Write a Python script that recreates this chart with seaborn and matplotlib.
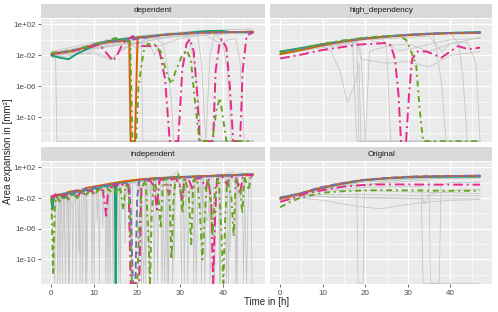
import numpy as np
import pandas as pd
import matplotlib
matplotlib.use("Agg")
import matplotlib.pyplot as plt
import seaborn as sns
from matplotlib.ticker import FixedLocator, NullFormatter

# =============================
# DATA  (t in h, log10 of area in mm^2; F = zero area, drawn at panel floor)
# =============================
F = -13.1

panels = ["dependent", "high_dependency", "independent", "Original"]
series = ["s1", "s2", "s3", "s4", "s5"]
colors = ["#1B9E77", "#D95F02", "#7570B3", "#E7298A", "#66A61E"]

# ---- dependent ----
dep_s1 = [(0, -2.0), (2, -2.3), (4, -2.5), (6, -1.8), (9, -1.0), (12.8, -0.2), (16, 0.05), (19, 0.25),
          (25, 0.6), (30, 0.8), (34, 1.05), (37, 1.15), (40, 1.15), (42, 1.0), (47, 0.95)]
dep_s2 = [(0, -1.85), (5, -1.45), (8, -0.95), (11, -0.45), (15, -0.2), (18.2, -0.1), (18.5, F), (19.5, F),
          (20.1, 0.3), (22, 0.35), (27, 0.7), (32, 0.85), (37, 0.95), (42, 1.0), (47, 1.05)]
dep_s3 = [(0, -1.75), (5, -1.4), (8, -0.9), (11, -0.4), (15, -0.15), (18, -0.05), (22, 0.3),
          (27, 0.7), (32, 0.85), (37, 0.95), (42, 1.0), (47, 1.0)]
dep_s4 = [(0, -1.8), (4, -1.5), (8, -1.1), (11.2, -0.6), (13, -1.8), (14.4, -2.7), (15.5, -1.8), (16.7, -0.4),
          (19, 0.5), (20.6, -0.8), (24.5, -0.8), (25.3, -1.7), (26.5, -5), (27.6, F), (29.6, F), (30.5, -4),
          (31.5, -0.5), (32.3, 0.1), (33.2, -1.5), (34, -7), (34.6, F), (37.7, F), (38.3, -4), (39.2, -0.5),
          (39.7, 0.1), (40.8, -1), (41.6, -6), (42.4, F), (44, F), (44.6, -4), (45.5, 0.5), (47, 1.0)]
dep_s5 = [(0, -1.7), (5, -1.4), (10, -0.6), (13, -0.1), (15, 0.25), (17, -0.1), (18.4, -0.3), (18.9, F),
          (19.8, F), (20.3, -6), (21.5, -1.5), (22.5, -0.5), (24, -0.6), (25.5, -1.5), (27, -4.5), (28, -5.7),
          (29, -4), (30.5, -2), (31.5, -1.3), (32.5, -2.5), (33.5, -8), (34.5, F), (37.5, F), (38.5, -9),
          (39.3, -7.5), (40, -10), (40.8, F), (46.5, F)]
dep_grey = [
    [(0, -1.9), (1, -2.2), (1.3, F), (47, F)],
    [(0, -2.3), (5, -2.0), (10, -1.5), (14, -2.5), (17, -1.0), (20, -0.4), (25, 0.2), (30, 0.5), (35, 0.8), (40, 0.9), (47, 1.0)],
    [(0, -1.6), (5, -1.2), (10, -0.7), (15, -0.3), (18, -0.2), (18.3, F), (47, F)],
    [(0, -2.0), (6, -1.6), (12, -1.0), (18, -0.5), (21, -0.3), (21.3, F), (47, F)],
    [(0, -1.8), (8, -1.0), (15, -0.4), (20, 0.1), (24, 0.4), (26, -0.5), (27, -3), (28, -8), (28.5, F), (47, F)],
    [(0, -2.1), (5, -1.8), (10, -1.8), (14, -2.6), (16, -1.5), (20, -0.3), (25, 0.5), (30, 0.8), (32, 0.3), (33, -2), (34, -6), (35, F), (47, F)],
    [(0, -1.7), (10, -0.6), (20, 0.4), (30, 0.9), (38, 1.1), (40, -0.5), (41, -4), (42, F), (47, F)],
    [(0, -1.9), (10, -0.8), (20, 0.1), (30, 0.5), (36, 0.6), (39, -0.3), (43, 0.2), (44, -3), (45, F), (47, F)],
    [(0, -2.2), (10, -1.1), (20, -0.3), (23, -0.5), (24, -2), (25, -0.8), (30, 0.2), (35, 0.6), (40, 0.9), (47, 1.2)],
    [(0, -1.5), (10, -0.3), (20, 0.5), (30, 1.0), (40, 1.3), (47, 1.4)],
    [(0, -2.0), (10, -1.0), (18, -0.3), (20, -1.2), (22, -0.2), (30, 0.6), (34, 0.9), (35, -3), (36, F), (37, -2), (38, 0.6), (47, 1.1)],
]

# ---- high_dependency ----
high_s1 = [(0, -1.5), (5, -1.05), (10, -0.55), (15, -0.15), (20, 0.2), (25, 0.45), (30, 0.65), (35, 0.8), (40, 0.9), (47, 1.0)]
high_s2 = [(0, -1.85), (5, -1.3), (10, -0.7), (15, -0.2), (20, 0.15), (25, 0.4), (30, 0.6), (35, 0.75), (40, 0.85), (47, 0.9)]
high_s3 = [(0, -1.65), (5, -1.15), (10, -0.6), (15, -0.15), (20, 0.2), (25, 0.45), (30, 0.65), (35, 0.8), (40, 0.9), (47, 0.95)]
high_s4 = [(0, -2.4), (5, -1.9), (10, -1.3), (15, -0.9), (18.6, -0.6), (22, -0.5), (25, -0.4), (26, -0.7), (27, -2.5),
           (27.8, -7), (28.4, F), (29.6, F), (30.3, -7), (31, -2.5), (32.3, -1.5), (34.4, -1.5), (37.9, -2.3),
           (41.8, -0.8), (44.2, -1.2), (47, -1.0)]
high_s5 = [(0, -1.7), (5, -1.15), (10, -0.5), (15, -0.05), (20, 0.3), (25, 0.5), (28, 0.5), (29.6, 0.0), (31, -1.8),
           (32, -3.4), (32.8, -9), (33.6, F), (47, F)]
high_grey = [
    [(0, -1.6), (5, -1.2), (10, -0.8), (12, -1.5), (14, -4), (15.8, -8.1), (17.7, -5.4), (18.5, -3), (19, F), (47, F)],
    [(0, -1.8), (10, -0.8), (18, -0.2), (18.5, F), (47, F)],
    [(0, -1.7), (10, -0.7), (18, -0.3), (19, -1.5), (20, F), (47, F)],
    [(0, -1.9), (10, -1.0), (18, -0.5), (19, -2.5), (25, -3), (30, -2.8), (35, -3.5), (40, -2), (47, -1.5)],
    [(0, -1.6), (10, -0.6), (20, 0.2), (24, 0.4), (25, -1), (26, F), (47, F)],
    [(0, -1.7), (10, -0.6), (20, 0.2), (30, 0.6), (36, 0.7), (37, -2), (38, -6), (39, F), (47, F)],
    [(0, -1.5), (10, -0.5), (20, 0.25), (30, 0.7), (40, 0.85), (42, -0.5), (43, -5), (44, F), (47, F)],
    [(0, -1.7), (10, -0.6), (20, 0.2), (25, -0.6), (28, -1.4), (32, -1.0), (36, -0.4), (40, 0.0), (47, 0.2)],
    [(0, -1.8), (10, -0.8), (20, 0.0), (30, 0.3), (35, 0.5), (38, -1.5), (40, -0.5), (44, -0.3), (46, -3), (47, F)],
    [(0, -1.6), (17, -0.3), (18, F), (20, F), (21, -1.5), (25, -0.8), (30, -0.5), (35, -1.5), (40, -0.5), (47, 0.3)],
    [(0, -1.55), (10, -0.5), (20, 0.3), (30, 0.75), (40, 0.95), (47, 1.05)],
]

# ---- independent ----
ind_s1 = [(0, -2.0), (0.3, -3.5), (0.6, -1.8), (2, -1.6), (3, -2.0), (4, -1.3), (5, -1.6), (6, -1.1), (7, -1.3),
          (8, -0.9), (9, -1.1), (10, -0.7), (11, -0.8), (12, -0.4), (13, -0.5), (14, -0.2), (14.8, -0.3), (15, F),
          (15.2, -0.2), (16, 0.0), (18, 0.2), (20, 0.35), (22, 0.45), (25, 0.6), (28, 0.7), (30, 0.75), (33, 0.8),
          (36, 0.85), (40, 0.95), (43, 1.0), (45, 1.1), (47, 1.05)]
ind_s2 = [(0, -1.8), (2, -1.5), (3, -1.7), (4, -1.2), (6, -1.0), (7, -1.1), (8, -0.7), (10, -0.5), (12, -0.3), (14, -0.1),
          (16, 0.1), (18, 0.25), (20, 0.4), (22, 0.5), (25, 0.6), (30, 0.7), (35, 0.85), (40, 0.95), (44, 1.0), (47, 1.1)]
ind_s3 = [(0, -1.9), (3, -1.4), (6, -1.1), (10, -0.6), (14, -0.2), (17, 0.0), (18.2, -0.3), (18.6, -5), (19, F),
          (19.6, F), (20, -2), (20.5, 0.3), (25, 0.55), (30, 0.7), (35, 0.8), (40, 0.9), (47, 1.05)]
ind_s4 = [(0, -2.2), (1, -1.5), (2, -2.4), (3, -1.6), (4, -2.1), (5, -1.3), (6, -1.9), (7, -1.1), (8, -1.6), (9, -0.9),
          (10, -1.4), (11, -0.7), (12, -1.0), (12.8, -4.3), (13.3, -0.5), (14, -0.6), (15, -0.2), (16, -0.5), (17, -0.1),
          (18, -0.3), (18.5, F), (20.5, F), (21, -0.5), (22, 0.2), (23, 0.3), (24, -0.5), (24.6, -3.5), (25.2, 0.3),
          (26, 0.5), (27.5, -1.5), (28, 0.4), (29, 0.6), (30, -0.5), (30.5, -2.5), (31, 0.4), (32, 0.5), (33, -1.0),
          (33.5, 0.5), (35, 0.6), (36, -0.8), (36.6, 0.6), (37.3, -3), (37.7, F), (38.2, -4), (38.6, 0.5), (40, 0.7),
          (41, -0.3), (41.5, 0.7), (43, 0.8), (44, -1.5), (44.6, 0.8), (46, 1.0), (47, 0.9)]
ind_s5 = [(0, -2.0), (0.2, -6), (0.4, -12), (0.6, -8), (0.8, -3), (1.2, -1.8), (2, -2.5), (3, -1.6), (4, -2.2), (5, -1.4),
          (6, -2.0), (7, -1.3), (8, -1.7), (9, -1.0), (10, -1.6), (11, -0.9), (12, -1.3), (13, -0.7), (14, -1.2),
          (14.5, -0.4), (15.3, -1.5), (16, -0.5), (16.8, -3.5), (17.3, -0.3), (18, -0.6), (18.4, -6), (18.8, F),
          (20, F), (20.5, -6), (21, -0.8), (22, 0.3), (22.7, -8), (23, F), (23.4, -4), (24, 0.4), (25, -2), (25.5, -6),
          (26, 0.3), (27, 0.5), (27.6, -3), (28, -10), (28.5, -2), (29, 0.6), (29.6, 1.1), (30, -0.5), (30.6, -4),
          (31, 0.5), (32, -1), (32.6, -8), (33.1, 0.3), (34, 0.6), (34.5, -2.5), (35.2, -10), (35.8, -4), (36.3, 0.5),
          (37, -1), (37.6, -7), (38.2, -0.5), (39, 0.6), (39.6, -6), (40.1, F), (40.5, -5), (41, 0.5), (42, -2),
          (42.5, -7), (43, 0.5), (44, -0.5), (44.5, -4), (45, 0.8), (46, -1), (46.5, 0.9), (47, 0.9)]
ind_grey = [
    [(0, -1.8), (1.3, -1.6), (1.5, F), (1.7, -1.6), (3, -1.3), (3.3, F), (3.6, -1.2), (6, -0.9), (8, -0.7), (8.3, F),
     (8.6, -0.6), (12, -0.3), (16, 0.0), (20, 0.3), (20.3, F), (20.6, 0.3), (25, 0.6), (30, 0.8), (30.3, F),
     (30.6, 0.8), (36, 0.9), (40, 1.0), (43, 1.1), (43.3, F), (43.6, 1.1), (47, 1.2)],
    [(0, -2.1), (2.4, -1.8), (2.6, F), (2.8, -1.7), (5, -1.4), (7.1, -1.1), (7.3, F), (7.5, -1.0), (11, -0.6),
     (11.2, F), (11.4, -0.5), (16, -0.1), (22, 0.3), (23.5, -2), (24, 0.4), (28, 0.6), (28.3, F), (28.7, 0.6),
     (34, 0.7), (36.5, -5), (37, 0.8), (41, 0.9), (41.3, F), (41.6, 0.9), (47, 1.0)],
    [(0, -1.9), (4, -1.5), (4.2, F), (4.5, -1.4), (9, -0.9), (13.5, -0.5), (13.7, F), (13.9, -0.4), (17, -0.2),
     (19, 0.2), (21, -1), (21.5, F), (22, -0.5), (26, 0.5), (26.4, F), (26.8, 0.5), (32, 0.7), (33, -3), (34, 0.7),
     (39, 0.8), (39.4, F), (39.8, 0.9), (45, 1.0), (45.5, F), (46, 1.0), (47, 1.0)],
    [(0, -1.7), (5.6, -1.2), (5.8, F), (6, -1.1), (10, -0.8), (15.9, -0.2), (16.1, F), (16.3, -0.1), (19, 0.1),
     (24.5, 0.5), (24.8, F), (25.1, 0.5), (29, 0.6), (31, -1.5), (32, 0.6), (35.5, 0.9), (35.8, F), (36.2, 0.8),
     (42, 0.9), (44, -2), (45, 1.0), (47, 1.1)],
    [(0, -2.3), (6.5, -1.5), (6.7, F), (7, -1.4), (12.5, -0.6), (12.7, F), (13, -0.5), (18, 0.0), (22.5, 0.3),
     (22.8, F), (23.2, 0.3), (27, 0.5), (29.5, 1.5), (30, 0.6), (33.5, 0.7), (33.8, F), (34.2, 0.7), (38, 0.8),
     (42.5, 1.4), (43, 0.9), (46.5, 1.0), (46.8, F), (47, F)],
    [(0, -2.0), (0.8, F), (1, -2.0), (5, -1.5), (9.8, -0.9), (10, F), (10.2, -0.8), (14.5, -0.4), (17.5, -1.5),
     (18, -0.2), (21, 0.2), (27, 0.5), (27.3, F), (27.7, 0.5), (31, 0.6), (37.8, 0.8), (38, F), (38.5, 0.8),
     (44, 0.9), (47, 1.1)],
    [(0, -1.6), (3, -1.4), (5, -3), (6, -1.3), (9, -0.8), (14.2, -0.3), (14.4, F), (14.6, -0.3), (19.5, 0.1),
     (25.5, 0.4), (25.8, F), (26.2, 0.4), (31.5, 0.6), (31.8, F), (32.2, 0.6), (40.5, 0.9), (40.8, F), (41.2, 0.9),
     (47, 1.1)],
    [(0, -2.2), (2, -1.9), (2.2, -5), (2.5, -1.9), (8, -1.0), (11.8, -0.6), (12, -6), (12.2, -0.6), (17, -0.1),
     (21.8, 0.2), (22, F), (22.3, 0.3), (29, 0.6), (34.8, 0.8), (35, F), (35.3, 0.8), (42, 1.0), (47, 1.2)],
    [(0, -1.9), (1.8, -1.7), (2, F), (2.2, -1.6), (4.8, -1.3), (5, F), (5.2, -1.2), (9.3, -0.8), (9.5, F), (9.7, -0.7),
     (15.5, -0.1), (15.7, F), (15.9, 0.0), (20.8, 0.3), (21, F), (21.3, 0.3), (26.8, 0.5), (27, F), (27.3, 0.5),
     (33, 0.7), (33.2, F), (33.5, 0.7), (39, 0.9), (39.2, F), (39.5, 0.9), (44.5, 1.0), (44.8, F), (45.1, 1.0), (47, 1.1)],
    [(0, -2.4), (3.8, -1.6), (4, F), (4.2, -1.5), (7.8, -1.0), (8, F), (8.2, -0.9), (13, -0.5), (13.2, F), (13.4, -0.4),
     (18.5, 0.1), (18.7, F), (19, 0.1), (23.8, 0.4), (24, F), (24.3, 0.4), (30.8, 0.6), (31, F), (31.3, 0.6),
     (36.8, 0.8), (37, F), (37.3, 0.8), (42.8, 1.0), (43, F), (43.3, 1.0), (47, 1.0)],
    [(0, -1.7), (2.8, -1.5), (3, -7), (3.2, -1.5), (6.2, -1.1), (6.4, -9), (6.6, -1.0), (10.5, -0.6), (10.7, -5),
     (10.9, -0.5), (17, 0.0), (17.2, -8), (17.4, 0.0), (23, 0.3), (23.2, -6), (23.4, 0.3), (28.5, 0.6), (28.7, -10),
     (28.9, 0.6), (35, 0.8), (35.2, -7), (35.4, 0.8), (41.5, 0.9), (41.7, -9), (41.9, 0.9), (47, 1.1)],
    [(0, -2.0), (2, -1.4), (4, -1.9), (6, -0.9), (8, -1.5), (10, -0.4), (12, -1.0), (14, 0.0), (16, -0.6), (19, 0.3),
     (21, -0.4), (24, 0.6), (26, 0.0), (29, 0.9), (31, 0.2), (34, 1.0), (36, 0.3), (39, 1.2), (41, 0.5), (44, 1.3), (47, 0.8)],
]

# ---- Original ----
orig_s1 = [(0, -2.0), (4, -1.5), (9.2, -0.75), (14, -0.2), (19.4, 0.3), (25, 0.55), (30.4, 0.7), (35, 0.75), (40, 0.78), (47, 0.8)]
orig_s2 = [(0, -2.1), (4, -1.55), (9.2, -0.7), (14, -0.15), (19.4, 0.34), (25, 0.6), (30.4, 0.77), (35, 0.83), (40, 0.87), (47, 0.9)]
orig_s3 = [(0, -1.95), (4, -1.5), (9.2, -0.65), (14, -0.1), (19.4, 0.36), (25, 0.62), (30.4, 0.78), (35, 0.85), (40, 0.88), (47, 0.92)]
orig_s4 = [(0, -2.5), (3, -2.0), (6, -1.4), (10.8, -0.88), (15, -0.5), (20.2, -0.27), (25, -0.22), (30, -0.22), (35, -0.25), (40, -0.25), (47, -0.25)]
orig_s5 = [(0, -3.2), (2, -2.6), (5, -1.9), (10, -1.3), (15, -1.1), (20, -1.0), (25, -0.97), (30, -1.0), (35, -1.03), (40, -1.05), (47, -1.05)]
orig_grey = [
    [(0, -1.9), (5, -1.3), (10, -0.8), (15, -0.3), (18, -0.1), (18.3, F), (19.5, F), (19.8, -0.5), (25, 0.2), (30, 0.45), (35, 0.55), (40, 0.6), (47, 0.65)],
    [(0, -2.2), (5, -1.7), (10, -1.5), (20, -1.55), (30, -1.65), (40, -1.7), (47, -1.7)],
    [(0, -2.4), (5, -2.0), (10, -2.3), (15, -2.8), (20, -3.2), (23.6, -3.4), (28, -3.0), (33, -2.6), (40, -2.3), (47, -2.2)],
    [(0, -2.0), (10, -1.8), (20, -1.9), (30, -2.0), (33.2, -2.1), (33.6, F), (47, F)],
    [(0, -2.0), (5, -1.4), (10, -1.0), (20, -0.6), (30, -0.5), (33, -0.5), (33.8, -2.8), (35, -1.5), (40, -1.0), (47, -0.9)],
    [(0, -1.8), (10, -0.9), (20, -0.2), (30, 0.2), (35, 0.3), (35.3, F), (37.4, F), (37.8, -0.3), (40, 0.0), (47, 0.1)],
    [(0, -2.1), (5, -1.5), (10, -1.1), (20, -1.0), (30, -1.2), (40, -1.3), (47, -1.4)],
    [(0, -1.9), (10, -0.8), (20, 0.1), (30, 0.45), (40, 0.55), (47, 0.6)],
    [(0, -2.3), (6, -1.6), (12, -1.9), (20, -2.0), (30, -2.1), (40, -2.1), (47, -2.1)],
]

colored = {
    "dependent": [dep_s1, dep_s2, dep_s3, dep_s4, dep_s5],
    "high_dependency": [high_s1, high_s2, high_s3, high_s4, high_s5],
    "independent": [ind_s1, ind_s2, ind_s3, ind_s4, ind_s5],
    "Original": [orig_s1, orig_s2, orig_s3, orig_s4, orig_s5],
}
greys = {
    "dependent": dep_grey,
    "high_dependency": high_grey,
    "independent": ind_grey,
    "Original": orig_grey,
}

# =============================
# LONG TABLES
# =============================
col_rows = []
for p in panels:
    for name, pts in zip(series, colored[p]):
        for t, v in pts:
            col_rows.append((p, name, t, 10.0 ** v))
col_df = pd.DataFrame(col_rows, columns=["panel", "series", "t", "area"])

grey_rows = []
for p in panels:
    for i, pts in enumerate(greys[p]):
        for t, v in pts:
            grey_rows.append((p, i, t, 10.0 ** v))
grey_df = pd.DataFrame(grey_rows, columns=["panel", "line", "t", "area"])

# =============================
# STYLE
# =============================
sns.set_theme(style="darkgrid")
plt.rcParams["font.family"] = ["Liberation Sans", "DejaVu Sans"]

palette = dict(zip(series, colors))
dashes = {"s1": "", "s2": "", "s3": (3.5, 1.8), "s4": (5, 2, 1, 2), "s5": (3, 2, 1, 2)}

W, H = 498, 312
fig = plt.figure(figsize=(W / 100, H / 100), dpi=100)
fig.patch.set_facecolor("white")

# panel boxes in pixels: (left, top, width, height)
boxes = {
    "dependent": (41, 19, 224, 123),
    "high_dependency": (270, 19, 222, 123),
    "independent": (41, 162, 224, 122),
    "Original": (270, 162, 222, 122),
}
strip_h = 14

for p in panels:
    l, t, w, h = boxes[p]
    ax = fig.add_axes([l / W, 1 - (t + h) / H, w / W, h / H])
    ax.set_facecolor("#EBEBEB")
    ax.set_yscale("log")

    sns.lineplot(data=grey_df[grey_df.panel == p], x="t", y="area", units="line",
                 estimator=None, sort=False, color="#C4C4C4", linewidth=0.55, ax=ax, legend=False)
    sns.lineplot(data=col_df[col_df.panel == p], x="t", y="area", hue="series", style="series",
                 hue_order=series, style_order=series, palette=palette, dashes=dashes,
                 estimator=None, sort=False, linewidth=1.4, ax=ax, legend=False)

    ax.set_xlim(-2.4, 49.8)
    ax.set_ylim(10 ** -13.2, 10 ** 2.7)
    ax.xaxis.set_major_locator(FixedLocator([0, 10, 20, 30, 40]))
    ax.xaxis.set_minor_locator(FixedLocator([5, 15, 25, 35, 45]))
    ax.yaxis.set_major_locator(FixedLocator([1e2, 1e-2, 1e-6, 1e-10]))
    ax.yaxis.set_minor_locator(FixedLocator([1e0, 1e-4, 1e-8, 1e-12]))
    ax.yaxis.set_minor_formatter(NullFormatter())
    ax.set_yticklabels(["1e+02", "1e-02", "1e-06", "1e-10"])
    ax.grid(which="major", color="white", linewidth=0.9)
    ax.grid(which="minor", color="white", linewidth=0.45)
    ax.set_axisbelow(True)
    for s in ax.spines.values():
        s.set_visible(False)
    ax.set_xlabel("")
    ax.set_ylabel("")

    left = p in ("dependent", "independent")
    bottom = p in ("independent", "Original")
    ax.tick_params(which="minor", length=0)
    ax.tick_params(axis="both", which="major", labelsize=5.8, labelcolor="#4D4D4D",
                   color="#333333", width=0.5, length=2.5, pad=1.5)
    ax.tick_params(axis="x", bottom=bottom, labelbottom=bottom)
    ax.tick_params(axis="y", left=left, labelleft=left)

    # facet strip
    sax = fig.add_axes([l / W, 1 - (t - 1) / H, w / W, strip_h / H])
    sax.set_facecolor("#D9D9D9")
    sax.set_xticks([])
    sax.set_yticks([])
    for s in sax.spines.values():
        s.set_visible(False)
    sax.text(0.5, 0.5, p, ha="center", va="center", fontsize=5.9, color="#1A1A1A",
             transform=sax.transAxes)

fig.text(267 / W, 1 - 302 / H, "Time in [h]", ha="center", va="center", fontsize=7)
fig.text(8 / W, 1 - 151 / H, "Area expansion in [mm²]", ha="center", va="center",
         rotation=90, fontsize=7)

fig.savefig("out.png", dpi=100)
